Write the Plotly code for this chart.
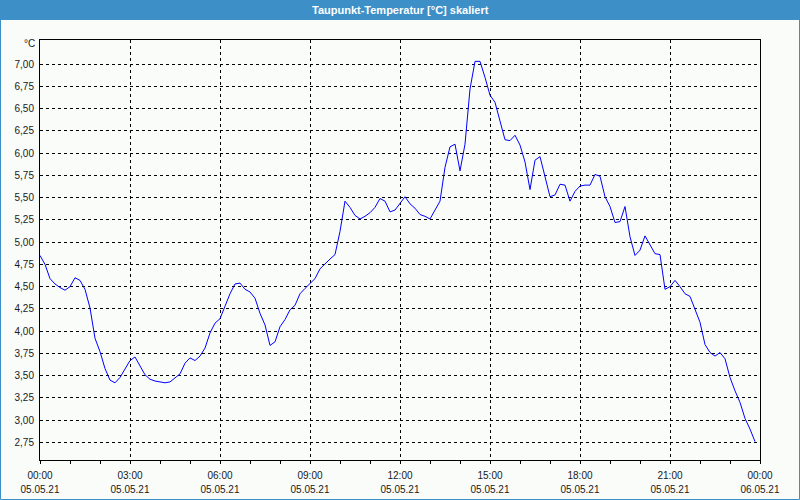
import plotly.graph_objects as go
import pandas as pd

TITLE = "Taupunkt-Temperatur [°C] skaliert"
UNIT = "°C"

# 10-minute samples, 05.05.21 00:00 .. 23:50
START = "2021-05-05 00:00"
STEP = "10min"
dew_point = [
    4.85, 4.75, 4.59, 4.53, 4.49, 4.46, 4.50, 4.60, 4.57, 4.47,
    4.26, 3.92, 3.77, 3.58, 3.45, 3.42, 3.48, 3.58, 3.67, 3.71,
    3.61, 3.51, 3.46, 3.44, 3.43, 3.42, 3.43, 3.47, 3.52, 3.64,
    3.70, 3.67, 3.72, 3.81, 3.98, 4.09, 4.14, 4.28, 4.42, 4.53,
    4.54, 4.47, 4.44, 4.37, 4.20, 4.07, 3.84, 3.88, 4.05, 4.13,
    4.24, 4.29, 4.42, 4.48, 4.53, 4.59, 4.70, 4.76, 4.81, 4.86,
    5.12, 5.46, 5.39, 5.30, 5.26, 5.29, 5.33, 5.39, 5.49, 5.46,
    5.34, 5.36, 5.43, 5.51, 5.43, 5.38, 5.31, 5.29, 5.26, 5.36,
    5.46, 5.84, 6.07, 6.10, 5.80, 6.10, 6.72, 7.03, 7.03, 6.85,
    6.65, 6.57, 6.37, 6.15, 6.14, 6.20, 6.09, 5.90, 5.59, 5.92,
    5.96, 5.74, 5.51, 5.53, 5.65, 5.64, 5.46, 5.57, 5.63, 5.64,
    5.64, 5.76, 5.74, 5.51, 5.40, 5.22, 5.23, 5.40, 5.06, 4.85,
    4.91, 5.07, 4.97, 4.87, 4.86, 4.47, 4.50, 4.57, 4.50, 4.42,
    4.39, 4.24, 4.10, 3.85, 3.76, 3.72, 3.76, 3.69, 3.48, 3.33,
    3.20, 3.02, 2.90, 2.76,
]

x_tick_times = ["2021-05-05 00:00", "2021-05-05 03:00", "2021-05-05 06:00",
                "2021-05-05 09:00", "2021-05-05 12:00", "2021-05-05 15:00",
                "2021-05-05 18:00", "2021-05-05 21:00", "2021-05-06 00:00"]
x_tick_hours = ["00:00", "03:00", "06:00", "09:00", "12:00", "15:00",
                "18:00", "21:00", "00:00"]
x_tick_dates = ["05.05.21"] * 8 + ["06.05.21"]
y_ticks = [2.75, 3.00, 3.25, 3.50, 3.75, 4.00, 4.25, 4.50, 4.75,
           5.00, 5.25, 5.50, 5.75, 6.00, 6.25, 6.50, 6.75, 7.00]
Y_RANGE = [2.553, 7.27]
X_RANGE = ["2021-05-05 00:00", "2021-05-06 00:00"]

times = pd.date_range(START, periods=len(dew_point), freq=STEP)

W, H = 800, 500
ML, MR, MT, MB = 40, 40, 40, 40
PW, PH = W - ML - MR, H - MT - MB


def px(x):
    return (x - ML) / PW


def py(y):
    return (H - MB - y) / PH


BLUE = "#3c8fc7"
BG = "#f9fcf9"
FONT = "Liberation Sans"
TXT = "#1a1a1a"

fig = go.Figure()
fig.add_trace(go.Scatter(x=times, y=dew_point, mode="lines",
                         line=dict(color="#0000ff", width=1),
                         hoverinfo="skip", showlegend=False))
# invisible trace for second x-axis (date row)
fig.add_trace(go.Scatter(x=[times[0]], y=[dew_point[0]], xaxis="x2",
                         mode="lines", line=dict(width=0), opacity=0,
                         hoverinfo="skip", showlegend=False))

fig.update_layout(
    width=W, height=H,
    margin=dict(l=ML, r=MR, t=MT, b=MB, pad=0, autoexpand=False),
    paper_bgcolor=BG, plot_bgcolor=BG,
    separators=",.",
    font=dict(family=FONT, size=10, color=TXT),
    xaxis=dict(
        type="date", range=X_RANGE, automargin=False,
        tickvals=x_tick_times, ticktext=x_tick_hours,
        showgrid=True, gridcolor="black", gridwidth=1, griddash="3px,3px",
        showline=True, linecolor="black", linewidth=1, mirror=True,
        ticks="outside", ticklen=3, tickcolor="black",
        minor=dict(dtick=3600000, ticks="outside", ticklen=3,
                   tickcolor="black", showgrid=False),
        zeroline=False, ticklabelstandoff=3,
        tickfont=dict(family=FONT, size=10, color=TXT),
    ),
    xaxis2=dict(
        type="date", range=X_RANGE, overlaying="x", side="bottom",
        matches="x", automargin=False,
        tickvals=x_tick_times, ticktext=x_tick_dates,
        showgrid=False, showline=False, ticks="", zeroline=False,
        ticklabelstandoff=22,
        tickfont=dict(family=FONT, size=10, color=TXT),
    ),
    yaxis=dict(
        range=Y_RANGE, tickvals=y_ticks, tickformat=".2f", automargin=False,
        showgrid=True, gridcolor="black", gridwidth=1, griddash="3px,3px",
        showline=True, linecolor="black", linewidth=1, mirror=True,
        ticks="", zeroline=False, ticklabelstandoff=3,
        tickfont=dict(family=FONT, size=10, color=TXT),
    ),
    shapes=[
        dict(type="rect", xref="paper", yref="paper",
             x0=px(0), x1=px(W), y0=py(20), y1=py(0),
             fillcolor=BLUE, line=dict(width=0), layer="above"),
        dict(type="rect", xref="paper", yref="paper",
             x0=px(0.5), x1=px(W - 0.5), y0=py(H - 0.5), y1=py(0.5),
             fillcolor="rgba(0,0,0,0)", line=dict(color=BLUE, width=1),
             layer="above"),
    ],
    annotations=[
        dict(text="<b>" + TITLE + "</b>", xref="paper", yref="paper",
             x=0.5, y=py(10), xanchor="center", yanchor="middle",
             showarrow=False, font=dict(family=FONT, size=11, color="white")),
        dict(text=UNIT, xref="paper", yref="paper",
             x=px(37), y=py(44), xanchor="right", yanchor="middle",
             showarrow=False, font=dict(family=FONT, size=10, color=TXT)),
    ],
)

fig.write_html("out.html")
